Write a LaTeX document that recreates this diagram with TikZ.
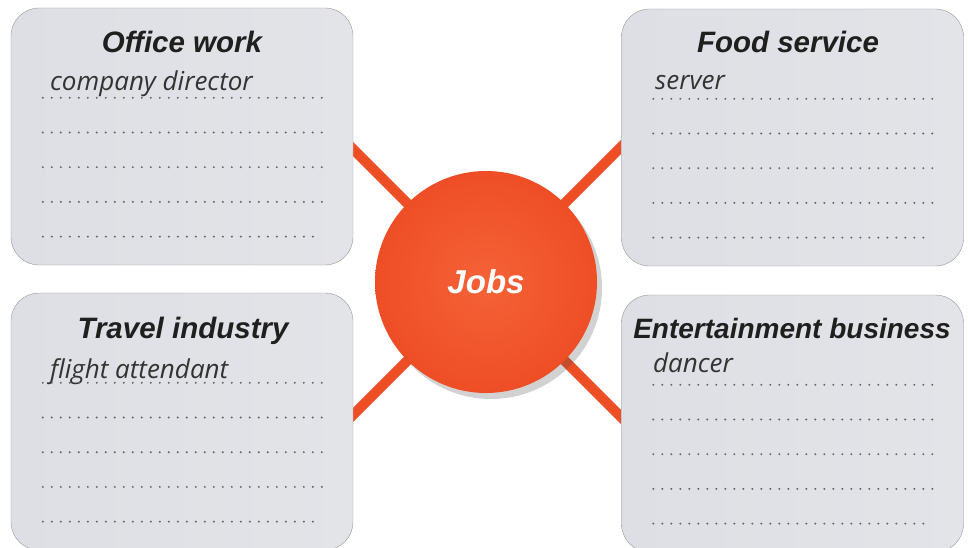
\documentclass[tikz,border=0pt]{standalone}
\usepackage{fontspec}
\setmainfont{Liberation Sans}
\newfontfamily\handfont{Open Sans}
\usepackage{xcolor}
\usetikzlibrary{
    shapes,
    shapes.geometric,
    shadows,
    calc,
    backgrounds
}
\definecolor{jobsred}{RGB}{238,78,38}
\definecolor{jobslight}{RGB}{245,98,55}
\definecolor{panelline}{RGB}{150,150,156}
\definecolor{panelside}{RGB}{222,223,228}
\definecolor{panelmid}{RGB}{241,241,244}
\tikzset{
  panel/.style = {
      draw=panelline,
      thin,
      rectangle,
      rounded corners=28pt,
      left color=panelside,
      middle color=panelmid,
      right color=panelside!85!white,
      minimum width=342pt,
      minimum height=257pt,
      inner sep=0pt
  },
  heading/.style = {
      font=\fontsize{29.5}{33}\selectfont\bfseries\itshape,
      text=black!88,
      anchor=base,
      inner sep=0pt
  },
  hand/.style = {
      font=\handfont\fontsize{26}{30}\selectfont\itshape,
      text=black!80,
      anchor=base west,
      inner sep=0pt
  },
  dots/.style = {
      draw=black!60,
      line width=2.2pt,
      line cap=round,
      dash pattern=on 0pt off 9pt
  },
  hub/.style = {
      circle,
      minimum size=222pt,
      inner sep=0pt,
      inner color=jobslight,
      outer color=jobsred,
      drop shadow={shadow xshift=5pt, shadow yshift=-6pt, opacity=0.25, fill=black!70},
      font=\fontsize{33}{36}\selectfont\bfseries\itshape,
      text=white
  },
  spoke/.style = {
      draw=jobsred,
      line width=10pt
  }
}

\begin{document}
\begin{tikzpicture}[x=1pt, y=-1pt]
        \useasboundingbox (0,0) rectangle (968,548);
        % Panels
        \node[panel] (office) at (182,136.5) {};
        \node[panel] (food) at (792.5,137.5) {};
        \node[panel] (travel) at (182,421.5) {};
        \node[panel] (entertain) at (792.5,423.5) {};
        % Hub
        \node[hub] (jobs) at (486,282) {Jobs};
        % Headings
        \node[heading] (officetitle) at (182,53) {Office work};
        \node[heading] (foodtitle) at (788,53) {Food service};
        \node[heading] (traveltitle) at (183,338) {Travel industry};
        \node[heading, font=\fontsize{28}{32}\selectfont\bfseries\itshape] (entertaintitle) at (792,338) {Entertainment business};
        % Examples
        \node[hand] (officejob) at (50,91) {company director};
        \node[hand] (foodjob) at (655,90) {server};
        \node[hand] (traveljob) at (50,378) {flight attendant};
        \node[hand] (entertainjob) at (653,372) {dancer};
        % Dotted lines
        \foreach \panel/\len in {office/281, food/280, travel/281, entertain/280} {
          \foreach \i in {0,...,4} {
            \draw[dots] ($(\panel.north west)+(32,90+34.7*\i)$) -- ++({\len-9*(\i==4)},0);
          }
        }
        % Spokes
        \coordinate (officeend) at (344,140);
        \coordinate (foodend) at (628,140);
        \coordinate (travelend) at (344,424);
        \coordinate (entertainend) at (628,424);
        \begin{scope}[on background layer]
        \path[spoke]
        (jobs.center) edge (officeend)
        (jobs.center) edge (foodend)
        (jobs.center) edge (travelend)
        (jobs.center) edge (entertainend);
        \end{scope}
    \end{tikzpicture}
\end{document}
